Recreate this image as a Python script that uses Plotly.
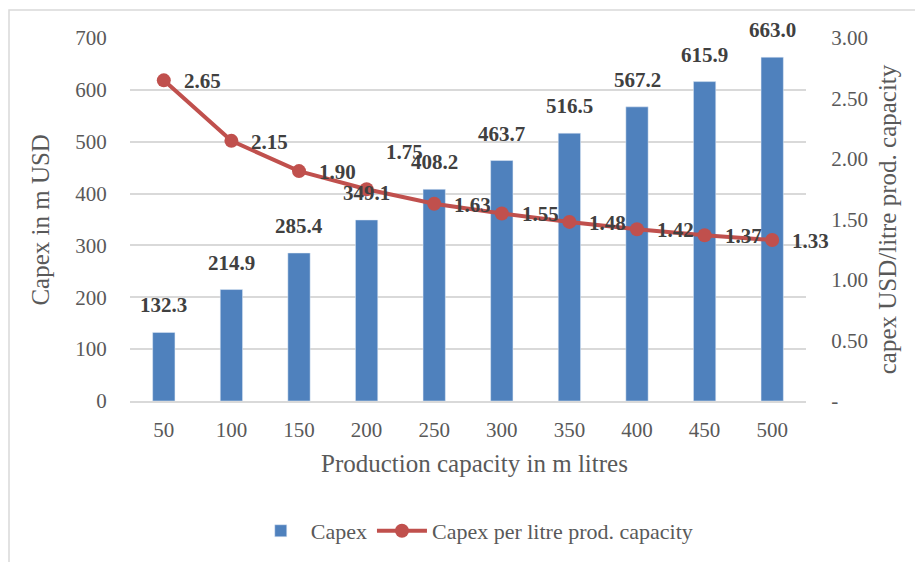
import plotly.graph_objects as go

categories = ["50", "100", "150", "200", "250", "300", "350", "400", "450", "500"]
capex = [132.3, 214.9, 285.4, 349.1, 408.2, 463.7, 516.5, 567.2, 615.9, 663.0]
capex_per_litre = [2.65, 2.15, 1.90, 1.75, 1.63, 1.55, 1.48, 1.42, 1.37, 1.33]
right_tickvals = [0, 0.5, 1.0, 1.5, 2.0, 2.5, 3.0]
right_ticktext = ["-", "0.50", "1.00", "1.50", "2.00", "2.50", "3.00"]

FONT = "Liberation Serif"
GRAY = "#595959"
DARK = "#404040"
BLUE = "#4F81BD"
RED = "#C0504D"

fig = go.Figure()
fig.add_trace(go.Bar(x=categories, y=capex, name="Capex", marker_color=BLUE,
                     width=0.33, yaxis="y"))
fig.add_trace(go.Scatter(x=categories, y=capex_per_litre, name="Capex per litre prod. capacity",
                         mode="lines+markers", line=dict(color=RED, width=4),
                         marker=dict(color=RED, size=14), yaxis="y2"))

LBL = dict(family=FONT, size=21, color=DARK)
ann = []
for i, v in enumerate(capex):
    ann.append(dict(x=i, y=v, xref="x", yref="y", text=f"<b>{v:.1f}</b>", showarrow=False,
                    xanchor="center", yanchor="bottom", yshift=13, font=LBL))
for i, v in enumerate(capex_per_litre):
    if i == 3:
        ann.append(dict(x=i, y=v, xref="x", yref="y2", text=f"<b>{v:.2f}</b>", showarrow=False,
                        xanchor="center", yanchor="middle", xshift=38, yshift=37, font=LBL))
    else:
        ann.append(dict(x=i, y=v, xref="x", yref="y2", text=f"<b>{v:.2f}</b>", showarrow=False,
                        xanchor="left", yanchor="middle", xshift=18, yshift=-1, font=LBL))

TTL = dict(family=FONT, size=25, color=GRAY)
ann.append(dict(x=0.51, y=-0.171, xref="paper", yref="paper", text="Production capacity in m litres",
                xanchor="center", yanchor="middle", showarrow=False, font=TTL))
ann.append(dict(x=-0.133, y=0.5, xref="paper", yref="paper", text="Capex in m USD", textangle=-90,
                xanchor="center", yanchor="middle", showarrow=False, font=TTL))
ann.append(dict(x=1.121, y=0.5, xref="paper", yref="paper", text="capex USD/litre prod. capacity",
                textangle=-90, xanchor="center", yanchor="middle", showarrow=False, font=TTL))

TICK = dict(family=FONT, size=21, color=GRAY)
fig.update_layout(
    width=923, height=562,
    margin=dict(l=122, r=125, t=30, b=169),
    paper_bgcolor="white", plot_bgcolor="white",
    font=dict(family=FONT, size=21, color=GRAY),
    showlegend=True,
    legend=dict(orientation="h", x=0.51, y=-0.358, xanchor="center", yanchor="middle",
                font=dict(family=FONT, size=22, color=GRAY), itemwidth=50),
    xaxis=dict(type="category", range=[-0.5, 9.5], autorange=False, showgrid=False,
               showline=True, linecolor="#d9d9d9", linewidth=2,
               ticks="outside", ticklen=9, tickcolor="rgba(0,0,0,0)", tickfont=TICK),
    yaxis=dict(range=[0, 700], dtick=100, showgrid=True, gridcolor="#d9d9d9", gridwidth=1.5,
               zeroline=False, showline=False, ticks="outside", ticklen=18,
               tickcolor="rgba(0,0,0,0)", tickfont=TICK),
    yaxis2=dict(range=[0, 3], overlaying="y", side="right", tickvals=right_tickvals,
                ticktext=right_ticktext, showgrid=False, zeroline=False, showline=False,
                ticks="outside", ticklen=20, tickcolor="rgba(0,0,0,0)", tickfont=TICK),
    annotations=ann,
    shapes=[dict(type="rect", xref="paper", yref="paper", x0=-0.179, x1=1.3, y0=-0.5, y1=1.0771,
                 line=dict(color="#d9d9d9", width=1.5), fillcolor="rgba(0,0,0,0)", layer="below")],
)

fig.write_html("out.html")
